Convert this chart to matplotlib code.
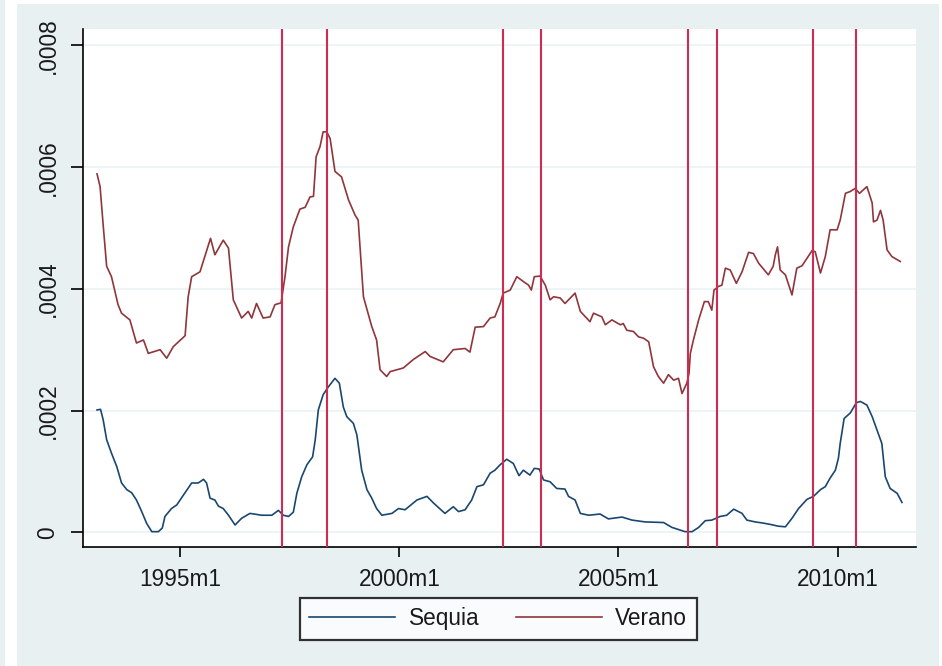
import matplotlib
matplotlib.use("Agg")
import matplotlib.pyplot as plt
from matplotlib.patches import Rectangle

# ---------------- data (decimal year, value in units of 1e-4) ----------------
verano_t = [1993.10, 1993.17, 1993.24, 1993.32, 1993.43, 1993.58, 1993.66, 1993.85, 1994.00,
            1994.16, 1994.27, 1994.54, 1994.69, 1994.84, 1995.11, 1995.18, 1995.26, 1995.45,
            1995.56, 1995.69, 1995.79, 1995.98, 1996.10, 1996.21, 1996.40, 1996.55, 1996.63,
            1996.74, 1996.89, 1997.05, 1997.16, 1997.30, 1997.39, 1997.47, 1997.58, 1997.73,
            1997.85, 1997.96, 1998.04, 1998.10, 1998.19, 1998.26, 1998.34, 1998.42, 1998.53,
            1998.68, 1998.84, 1998.99, 1999.06, 1999.18, 1999.37, 1999.48, 1999.56, 1999.71,
            1999.79, 2000.09, 2000.32, 2000.59, 2000.70, 2001.00, 2001.23, 2001.50, 2001.61,
            2001.73, 2001.92, 2002.07, 2002.18, 2002.30, 2002.37, 2002.53, 2002.68, 2002.83,
            2002.95, 2003.01, 2003.08, 2003.21, 2003.33, 2003.44, 2003.52, 2003.67, 2003.78,
            2004.01, 2004.13, 2004.35, 2004.43, 2004.62, 2004.70, 2004.85, 2005.04, 2005.11,
            2005.19, 2005.34, 2005.46, 2005.57, 2005.69, 2005.80, 2005.91, 2006.03, 2006.14,
            2006.26, 2006.37, 2006.45, 2006.56, 2006.61, 2006.64, 2006.71, 2006.83, 2006.96,
            2007.05, 2007.13, 2007.18, 2007.28, 2007.36, 2007.44, 2007.55, 2007.69, 2007.82,
            2007.97, 2008.08, 2008.20, 2008.42, 2008.53, 2008.58, 2008.63, 2008.69, 2008.81,
            2008.96, 2009.07, 2009.19, 2009.42, 2009.49, 2009.61, 2009.72, 2009.83, 2009.99,
            2010.06, 2010.18, 2010.29, 2010.40, 2010.50, 2010.67, 2010.79, 2010.82, 2010.90,
            2010.98, 2011.04, 2011.13, 2011.24, 2011.43]
verano_v = [5.89, 5.68, 5.05, 4.37, 4.20, 3.74, 3.60, 3.49, 3.11,
            3.16, 2.94, 3.00, 2.86, 3.05, 3.23, 3.87, 4.20, 4.28,
            4.53, 4.83, 4.56, 4.80, 4.67, 3.82, 3.52, 3.63, 3.52,
            3.76, 3.52, 3.54, 3.74, 3.77, 4.20, 4.69, 5.02, 5.31,
            5.34, 5.51, 5.52, 6.17, 6.34, 6.58, 6.58, 6.47, 5.93,
            5.84, 5.46, 5.21, 5.13, 3.87, 3.38, 3.16, 2.67, 2.56,
            2.64, 2.70, 2.84, 2.97, 2.89, 2.80, 3.00, 3.02, 2.96,
            3.37, 3.38, 3.52, 3.54, 3.76, 3.93, 3.98, 4.20, 4.12,
            4.06, 3.98, 4.20, 4.21, 4.06, 3.82, 3.87, 3.85, 3.76,
            3.93, 3.63, 3.46, 3.60, 3.54, 3.41, 3.49, 3.41, 3.43,
            3.32, 3.30, 3.21, 3.19, 3.13, 2.72, 2.56, 2.45, 2.59,
            2.50, 2.53, 2.28, 2.45, 2.61, 2.94, 3.16, 3.49, 3.79,
            3.79, 3.65, 3.98, 4.04, 4.06, 4.34, 4.31, 4.09, 4.28,
            4.60, 4.58, 4.42, 4.23, 4.37, 4.56, 4.69, 4.31, 4.23,
            3.90, 4.34, 4.38, 4.63, 4.61, 4.26, 4.53, 4.97, 4.97,
            5.13, 5.57, 5.60, 5.65, 5.57, 5.68, 5.41, 5.10, 5.13,
            5.29, 5.13, 4.64, 4.53, 4.45]

sequia_t = [1993.10, 1993.18, 1993.24, 1993.32, 1993.43, 1993.55, 1993.66, 1993.78, 1993.89,
            1994.00, 1994.12, 1994.23, 1994.35, 1994.50, 1994.59, 1994.65, 1994.80, 1994.92,
            1995.07, 1995.26, 1995.41, 1995.53, 1995.60, 1995.68, 1995.79, 1995.87, 1995.98,
            1996.10, 1996.25, 1996.40, 1996.59, 1996.86, 1997.09, 1997.24, 1997.35, 1997.47,
            1997.58, 1997.66, 1997.77, 1997.89, 1998.02, 1998.08, 1998.15, 1998.26, 1998.38,
            1998.53, 1998.63, 1998.72, 1998.80, 1998.95, 1999.03, 1999.14, 1999.26, 1999.37,
            1999.48, 1999.60, 1999.83, 1999.98, 2000.13, 2000.40, 2000.63, 2000.78, 2001.04,
            2001.23, 2001.35, 2001.50, 2001.65, 2001.77, 2001.92, 2002.07, 2002.18, 2002.30,
            2002.45, 2002.60, 2002.73, 2002.83, 2002.98, 2003.08, 2003.19, 2003.29, 2003.44,
            2003.59, 2003.78, 2003.86, 2004.01, 2004.13, 2004.32, 2004.58, 2004.77, 2005.08,
            2005.31, 2005.61, 2006.03, 2006.22, 2006.52, 2006.68, 2006.83, 2006.98, 2007.13,
            2007.32, 2007.47, 2007.63, 2007.82, 2007.93, 2008.12, 2008.31, 2008.46, 2008.65,
            2008.81, 2008.96, 2009.11, 2009.30, 2009.45, 2009.61, 2009.72, 2009.83, 2009.95,
            2010.02, 2010.06, 2010.15, 2010.29, 2010.43, 2010.52, 2010.67, 2010.79, 2010.90,
            2011.01, 2011.09, 2011.20, 2011.36, 2011.47]
sequia_v = [2.01, 2.02, 1.85, 1.52, 1.30, 1.08, 0.81, 0.70, 0.65,
            0.53, 0.34, 0.15, 0.01, 0.01, 0.07, 0.26, 0.39, 0.45,
            0.61, 0.81, 0.81, 0.87, 0.81, 0.56, 0.53, 0.43, 0.39,
            0.28, 0.12, 0.23, 0.31, 0.28, 0.28, 0.36, 0.28, 0.26,
            0.33, 0.64, 0.91, 1.11, 1.24, 1.52, 2.01, 2.26, 2.39,
            2.53, 2.45, 2.06, 1.90, 1.79, 1.60, 1.02, 0.70, 0.56,
            0.39, 0.28, 0.31, 0.39, 0.37, 0.53, 0.59, 0.48, 0.31,
            0.42, 0.34, 0.37, 0.53, 0.75, 0.78, 0.97, 1.02, 1.11,
            1.20, 1.13, 0.93, 1.02, 0.94, 1.05, 1.04, 0.86, 0.83,
            0.72, 0.71, 0.59, 0.53, 0.31, 0.28, 0.30, 0.22, 0.25,
            0.20, 0.17, 0.16, 0.08, 0.01, 0.01, 0.08, 0.19, 0.20,
            0.26, 0.28, 0.38, 0.31, 0.20, 0.17, 0.15, 0.13, 0.10,
            0.09, 0.23, 0.39, 0.54, 0.59, 0.70, 0.75, 0.89, 1.02,
            1.22, 1.46, 1.87, 1.96, 2.13, 2.15, 2.09, 1.90, 1.68,
            1.46, 0.91, 0.72, 0.64, 0.49]

event_lines = [1997.32, 1998.35, 2002.37, 2003.23, 2006.58, 2007.24, 2009.44, 2010.42]

xtick_pos = [1995.0, 2000.0, 2005.0, 2010.0]
xtick_labels = ["1995m1", "2000m1", "2005m1", "2010m1"]
ytick_pos = [0.0, 0.0002, 0.0004, 0.0006, 0.0008]
ytick_labels = ["0", ".0002", ".0004", ".0006", ".0008"]
series_names = ["Sequia", "Verano"]

# ---------------- styling ----------------
BG = "#E8F0F2"
BLUE = "#1A476F"
MAROON = "#90353B"
VLINE = "#D02B50"
FONT = "Liberation Sans"
FS = 16.3

W, H = 942, 666
fig = plt.figure(figsize=(W / 100, H / 100), dpi=100, facecolor="white")
fig.patches.append(Rectangle((17 / W, 0), (939 - 17) / W, 1 - 4 / H,
                             transform=fig.transFigure, facecolor=BG,
                             edgecolor="none", zorder=-10))
fig.patches.append(Rectangle((0, 0), 5 / W, 1, transform=fig.transFigure,
                             facecolor=BG, edgecolor="none", zorder=-10))

ax = fig.add_axes([83 / W, 1 - 547 / H, (916 - 83) / W, (547 - 29) / H])
ax.set_facecolor("white")

scale = 1e-4
ax.plot(sequia_t, [v * scale for v in sequia_v], color=BLUE, lw=1.2,
        label=series_names[0], zorder=3)
ax.plot(verano_t, [v * scale for v in verano_v], color=MAROON, lw=1.2,
        label=series_names[1], zorder=3)
for xv in event_lines:
    ax.axvline(xv, color=VLINE, lw=1.5, zorder=4)

ax.set_xlim(1992.78, 2011.79)
ax.set_ylim(-0.0000242, 0.000827)

ax.set_yticks(ytick_pos)
ax.set_yticklabels(ytick_labels, rotation=90, va="center", fontfamily=FONT, fontsize=FS)
ax.set_xticks(xtick_pos)
ax.set_xticklabels(xtick_labels, fontfamily=FONT, fontsize=FS)
ax.tick_params(axis="y", length=9, width=1.2, pad=8, colors="#000000")
ax.tick_params(axis="x", length=7, width=1.2, pad=8, colors="#000000")
for lab in ax.get_xticklabels() + ax.get_yticklabels():
    lab.set_color("#1a1a1a")

ax.grid(axis="y", color="#EAF2F3", lw=1.2, zorder=0)
ax.grid(axis="x", visible=False)
for s in ["top", "right"]:
    ax.spines[s].set_visible(False)
for s in ["left", "bottom"]:
    ax.spines[s].set_color("black")
    ax.spines[s].set_linewidth(1.2)

leg = fig.legend(loc="center", bbox_to_anchor=(498.3 / W, 1 - 618.7 / H), ncol=2,
                 frameon=True, fancybox=False, handlelength=3.8, handletextpad=0.6,
                 columnspacing=1.6, borderpad=0.42,
                 prop={"family": FONT, "size": FS})
leg.get_frame().set_edgecolor("black")
leg.get_frame().set_linewidth(1.6)
leg.get_frame().set_facecolor("white")
for t in leg.get_texts():
    t.set_color("#1a1a1a")

fig.savefig("out.png", dpi=100, facecolor=fig.get_facecolor())
